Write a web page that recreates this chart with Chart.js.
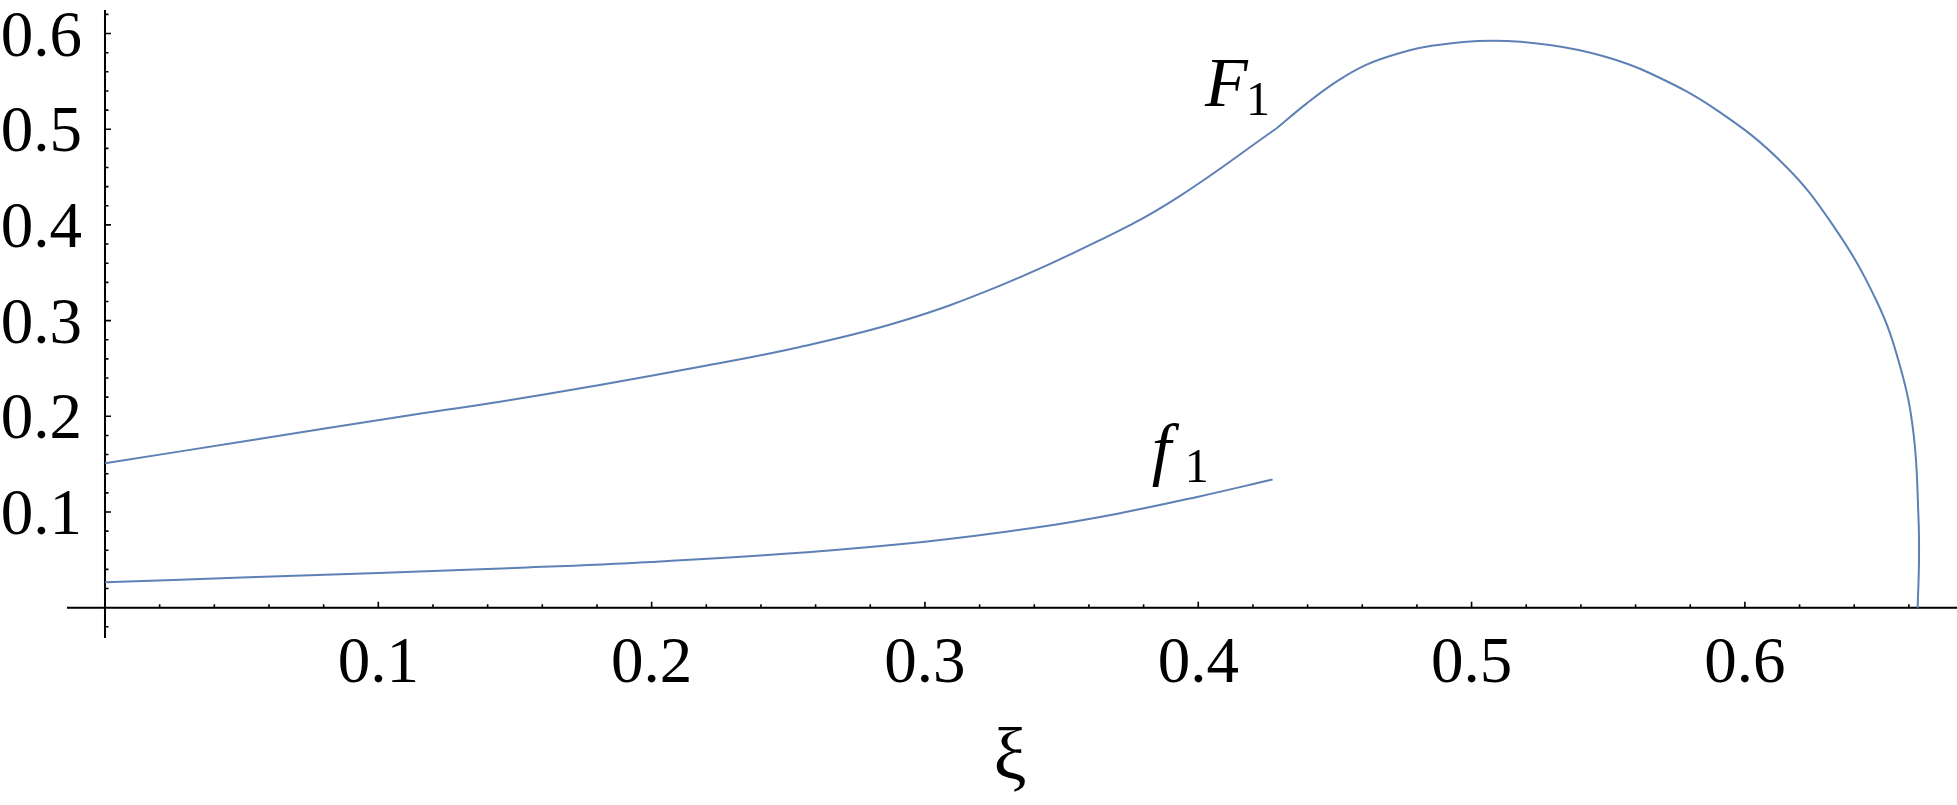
<!DOCTYPE html>
<html>
<head>
<meta charset="utf-8">
<script src="https://cdn.jsdelivr.net/npm/chart.js@4.4.1/dist/chart.umd.min.js"></script>
<style>
  html, body { margin: 0; padding: 0; background: #fff; }
  canvas { display: block; }
</style>
</head>
<body>
<canvas id="plot" width="1957" height="805"></canvas>
<script>
/* ── Données ── */
// F1, branche montante (jusqu'au point anguleux)
const bigFRiseX = [0, 0.054, 0.108, 0.1445, 0.181, 0.2177, 0.2543, 0.291, 0.3275, 0.364, 0.3915, 0.4287];
const bigFRiseY = [0.151, 0.1752, 0.1996, 0.2153, 0.2327, 0.2518, 0.2725, 0.299, 0.3365, 0.384, 0.427, 0.501];
// F1, bosse puis descente vers l'axe
const bigFArcX = [0.4287, 0.4397, 0.4507, 0.4616, 0.4738, 0.486, 0.508, 0.5286, 0.548, 0.5653, 0.5897,
  0.614, 0.632, 0.648, 0.6568, 0.6617, 0.6635, 0.6637, 0.6632];
const bigFArcY = [0.501, 0.527, 0.550, 0.5675, 0.5797, 0.5874, 0.5925, 0.588, 0.5765, 0.5585, 0.520,
  0.464, 0.4005, 0.3215, 0.252, 0.182, 0.095, 0.050, 0.0];

const smallFX = [0, 0.05, 0.1, 0.15, 0.2, 0.25, 0.3, 0.34, 0.37, 0.4, 0.4272];
const smallFY = [0.0265, 0.0315, 0.0362, 0.0415, 0.0478, 0.0565, 0.069, 0.0835, 0.098, 0.116, 0.134];

const xTickLabels = ['0.1', '0.2', '0.3', '0.4', '0.5', '0.6'];
const yTickLabels = ['0.1', '0.2', '0.3', '0.4', '0.5', '0.6'];
const minorStep = 0.02;
const xAxisTitle = 'ξ';
const curveNames = [['F', '1'], ['f', '1']];

/* ── Style ── */
const LINE = '#5E81B5';
const SERIF = '"Liberation Serif", "DejaVu Serif", serif';

const toPoints = (xs, ys) => xs.map((x, i) => ({ x, y: ys[i] }));

/* ── Axes à la Mathematica (croisées en 0) ── */
const axesPlugin = {
  id: 'mmaAxes',
  beforeDatasetsDraw(chart) {
    const { ctx, chartArea: a, scales: { x: xs, y: ys } } = chart;
    const x0 = xs.getPixelForValue(0), y0 = ys.getPixelForValue(0);
    ctx.save();
    ctx.strokeStyle = '#000';
    ctx.lineWidth = 2;
    ctx.beginPath();
    ctx.moveTo(a.left, y0); ctx.lineTo(a.right, y0);
    ctx.moveTo(x0, a.top); ctx.lineTo(x0, a.bottom);
    ctx.stroke();

    ctx.lineWidth = 1.6;
    ctx.beginPath();
    for (let k = Math.ceil(xs.min / minorStep); k * minorStep <= xs.max; k++) {
      if (k === 0) continue;
      const px = xs.getPixelForValue(k * minorStep);
      const len = k % 5 === 0 ? 6 : 3.5;
      ctx.moveTo(px, y0); ctx.lineTo(px, y0 - len);
    }
    for (let k = Math.ceil(ys.min / minorStep); k * minorStep <= ys.max; k++) {
      if (k === 0) continue;
      const py = ys.getPixelForValue(k * minorStep);
      const len = k % 5 === 0 ? 6 : 3.5;
      ctx.moveTo(x0, py); ctx.lineTo(x0 + len, py);
    }
    ctx.stroke();

    ctx.fillStyle = '#000';
    ctx.font = '65px ' + SERIF;
    ctx.textBaseline = 'alphabetic';
    ctx.textAlign = 'center';
    xTickLabels.forEach(t => {
      ctx.fillText(t, xs.getPixelForValue(parseFloat(t)), y0 + 74);
    });
    ctx.textAlign = 'right';
    yTickLabels.forEach(t => {
      ctx.fillText(t, x0 - 23, ys.getPixelForValue(parseFloat(t)) + 22);
    });

    ctx.textAlign = 'center';
    ctx.font = '74px ' + SERIF;
    ctx.fillText(xAxisTitle, (a.left + a.right) / 2 - 2, 779);
    ctx.restore();
  },
  afterDatasetsDraw(chart, args, opts) {
    const { ctx, scales: { x: xs, y: ys } } = chart;
    ctx.save();
    ctx.fillStyle = '#000';
    ctx.textAlign = 'left';
    ctx.textBaseline = 'alphabetic';
    opts.labels.forEach((l, i) => {
      const [main, sub] = curveNames[i];
      const px = xs.getPixelForValue(l.at[0]), py = ys.getPixelForValue(l.at[1]);
      ctx.font = 'italic 70px ' + SERIF;
      ctx.fillText(main, px, py);
      ctx.font = '48px ' + SERIF;
      ctx.fillText(sub, px + l.subDx, py + l.subDy);
    });
    ctx.restore();
  }
};

new Chart(document.getElementById('plot'), {
  type: 'line',
  data: {
    datasets: [
      { data: toPoints(bigFRiseX, bigFRiseY), tension: 0.4 },
      { data: toPoints(bigFArcX, bigFArcY), tension: 0.4 },
      { data: toPoints(smallFX, smallFY), tension: 0.4 }
    ]
  },
  options: {
    responsive: false,
    animation: false,
    devicePixelRatio: 1,
    layout: { padding: { left: 67, right: 0, top: 10, bottom: 167 } },
    elements: {
      point: { radius: 0, hoverRadius: 0 },
      line: { borderColor: LINE, borderWidth: 2, fill: false, capBezierPoints: false }
    },
    scales: {
      x: { type: 'linear', display: false, min: -0.0139, max: 0.6776 },
      y: { type: 'linear', display: false, min: -0.0317, max: 0.6246 }
    },
    plugins: {
      legend: { display: false },
      tooltip: { enabled: false },
      mmaAxes: {
        labels: [
          { at: [0.4025, 0.524], subDx: 41, subDy: 9 },
          { at: [0.383, 0.1418], subDx: 33, subDy: 10 }
        ]
      }
    }
  },
  plugins: [axesPlugin]
});
</script>
</body>
</html>
